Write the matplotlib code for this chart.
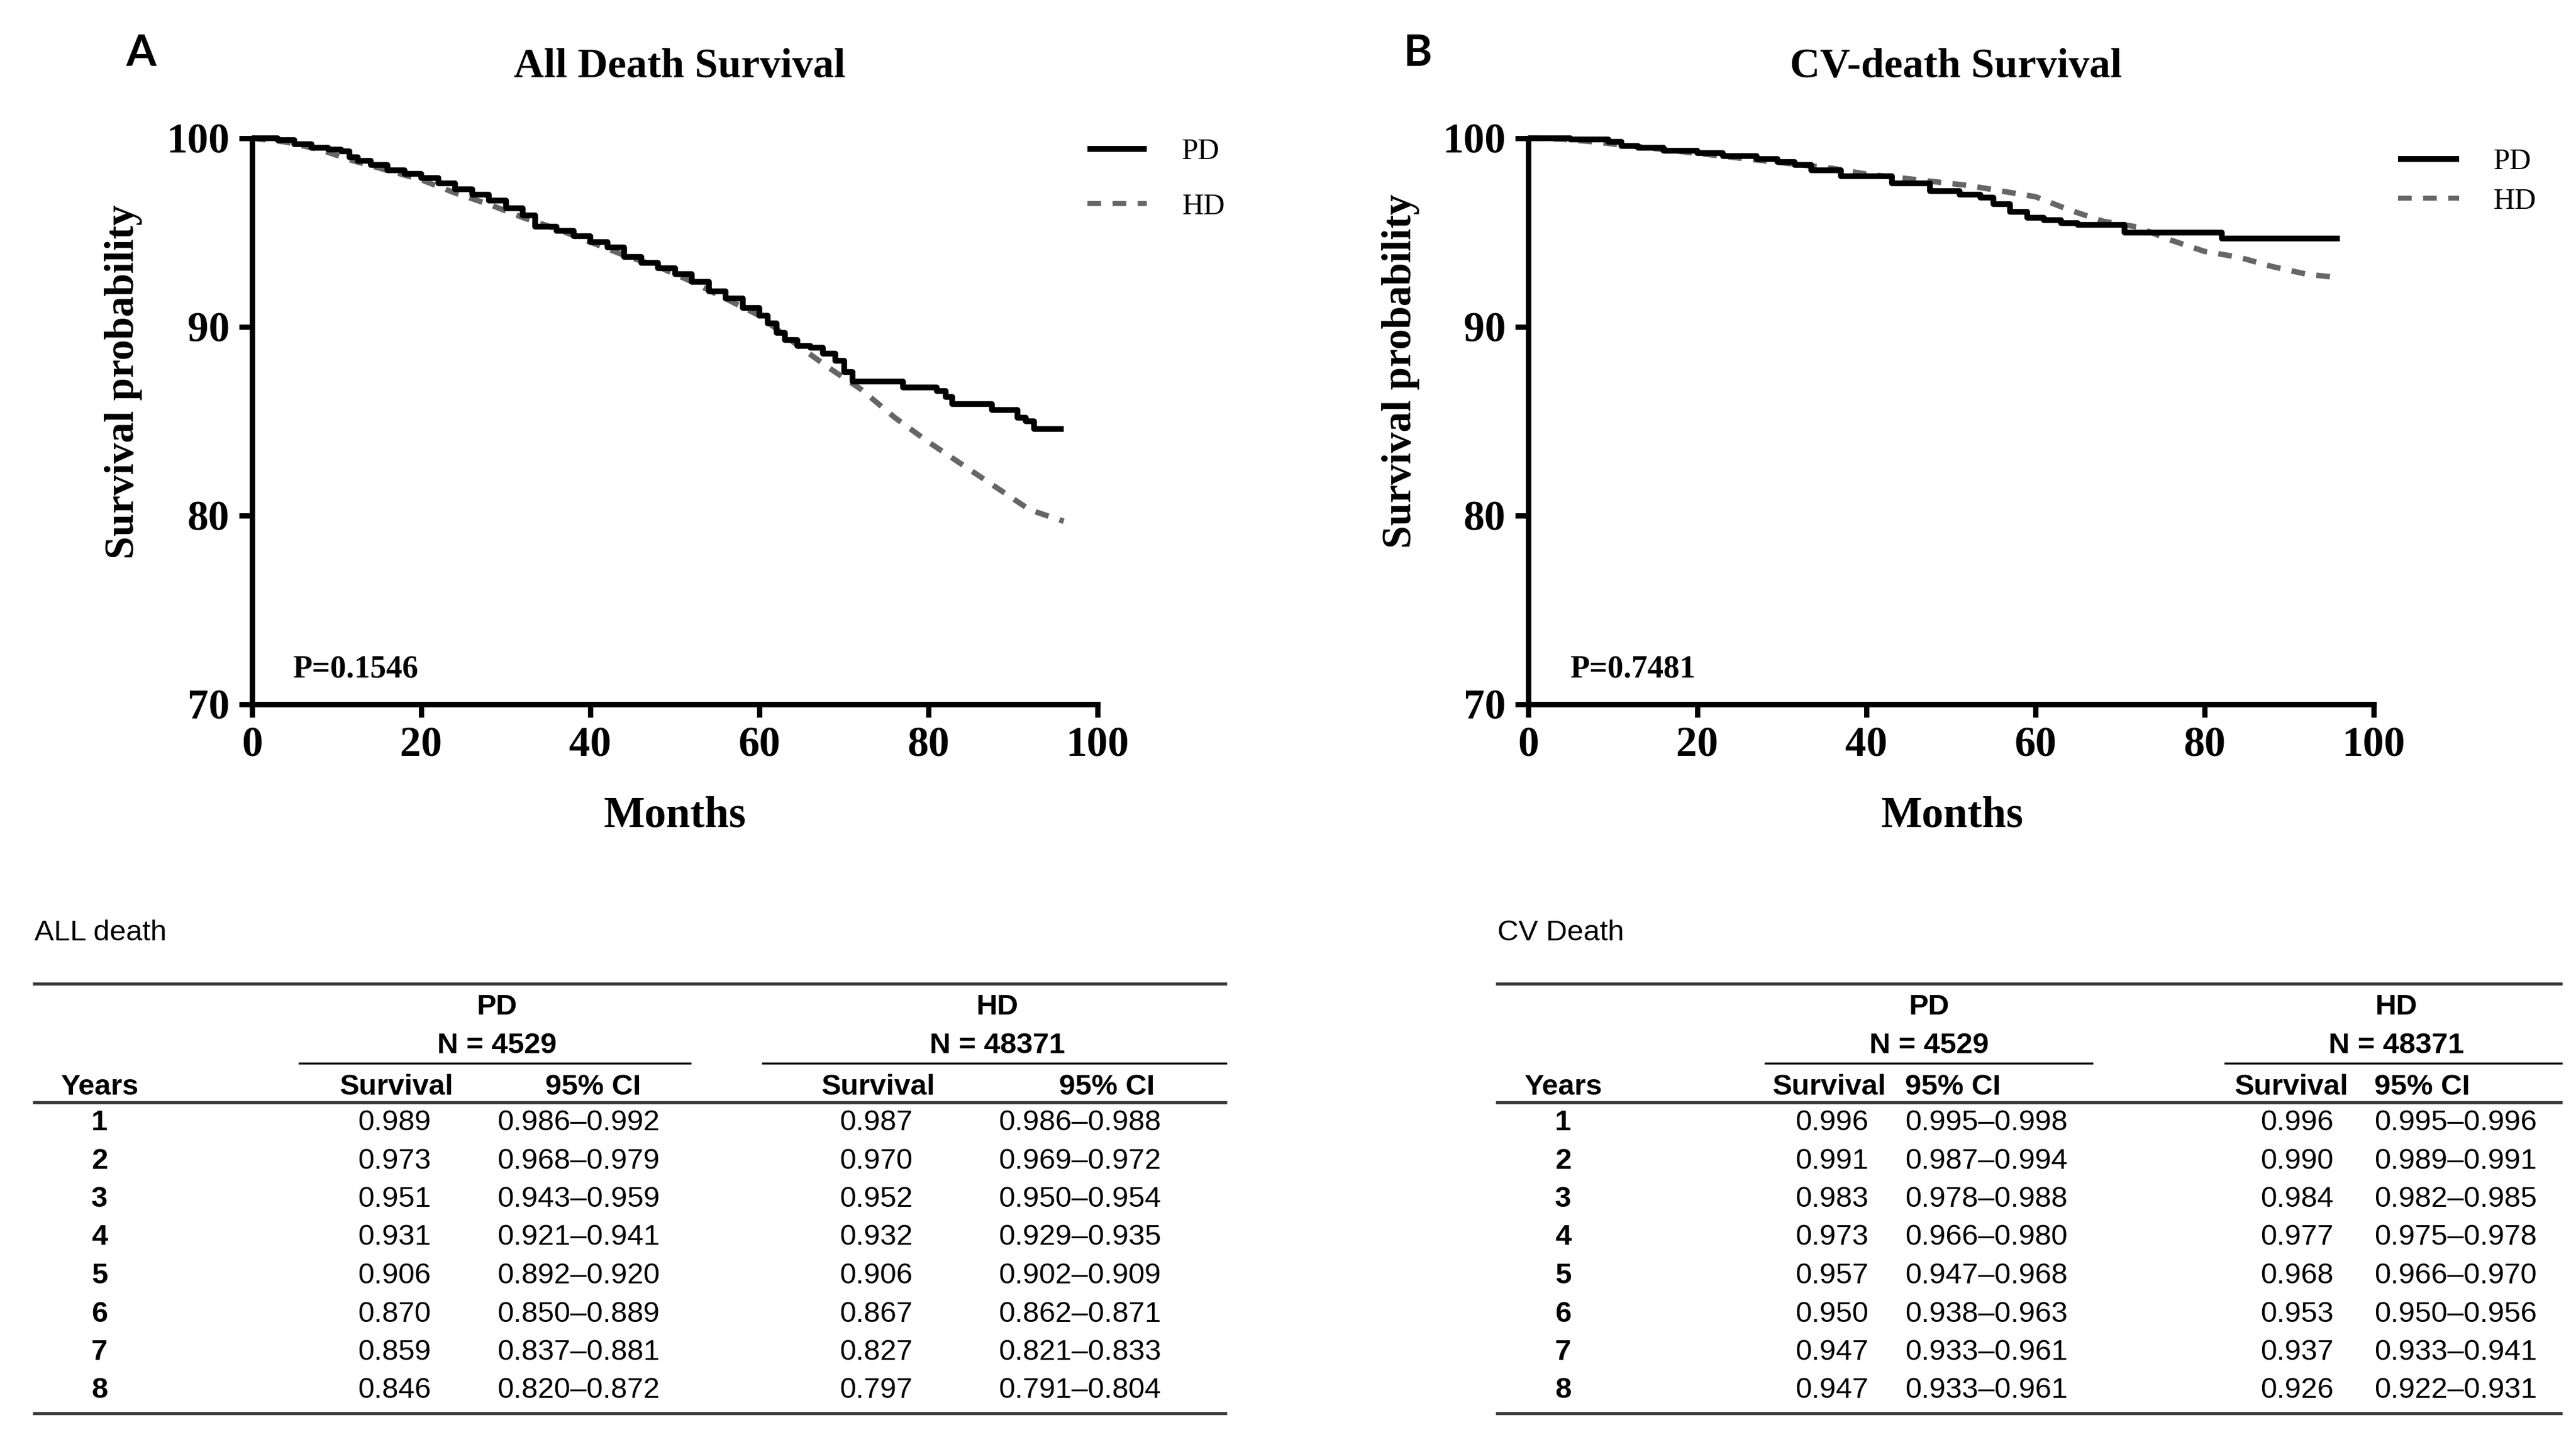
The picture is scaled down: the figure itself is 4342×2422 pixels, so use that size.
import matplotlib
matplotlib.use("Agg")
import matplotlib.pyplot as plt

W, H = 4342, 2422
DPI = 277

plt.rcParams['font.family'] = ['Liberation Serif', 'DejaVu Serif']
plt.rcParams['lines.scale_dashes'] = False
SANS = ['Liberation Sans', 'DejaVu Sans']

# ---- Kaplan-Meier curves (months, survival %) ----
all_pd_t = [0, 3, 5, 7, 9, 10.5, 11.5, 12.5, 14, 16, 18, 20, 22, 24, 26, 28, 30, 32, 33.5, 36,
            38, 40, 42, 44, 46, 48, 50, 52, 54, 56, 58, 60, 61, 62, 63, 64.5, 66, 67.5, 69, 70,
            71, 77, 81, 82, 82.8, 87.5, 90.5, 91.5, 92.5, 96]
all_pd_s = [100, 99.9, 99.7, 99.5, 99.4, 99.3, 99.0, 98.8, 98.6, 98.3, 98.1, 97.9, 97.6, 97.3, 97.0,
            96.7, 96.3, 95.9, 95.3, 95.1, 94.8, 94.5, 94.2, 93.7, 93.4, 93.1, 92.8, 92.4, 91.9, 91.5,
            91.0, 90.6, 90.2, 89.7, 89.3, 89.0, 88.9, 88.6, 88.2, 87.6, 87.1, 86.8, 86.6, 86.3, 85.9,
            85.6, 85.2, 85.0, 84.6, 84.6]
all_hd_t = [0, 4, 8, 12, 16, 20, 24, 28, 32, 36, 40, 44, 48, 52, 56, 60, 64, 68, 72, 76, 80, 84, 88, 92, 96]
all_hd_s = [100, 99.8, 99.4, 98.8, 98.3, 97.8, 97.1, 96.5, 95.8, 95.2, 94.5, 93.8, 93.2, 92.4, 91.5,
            90.6, 89.2, 87.9, 86.7, 85.2, 83.9, 82.7, 81.5, 80.3, 79.7]

cv_pd_t = [0, 5, 9.5, 11, 13, 16, 20, 23, 27, 29.5, 31.5, 33.5, 37, 43, 47.5, 51, 53.5, 55, 57, 59,
           61, 63, 65, 70.5, 82, 96]
cv_pd_s = [100, 99.95, 99.8, 99.6, 99.5, 99.35, 99.2, 99.05, 98.9, 98.75, 98.6, 98.3, 98.0, 97.6,
           97.2, 97.0, 96.85, 96.5, 96.1, 95.8, 95.65, 95.5, 95.4, 95.0, 94.7, 94.7]
cv_hd_t = [0, 4, 8, 12, 16, 20, 24, 28, 32, 36, 40, 44, 48, 52, 56, 60, 64, 68, 72, 76, 80, 84, 88, 92, 96]
cv_hd_s = [100, 99.95, 99.8, 99.6, 99.4, 99.2, 99.0, 98.8, 98.6, 98.4, 98.1, 97.9, 97.7, 97.5, 97.2,
           96.9, 96.2, 95.6, 95.3, 94.6, 94.0, 93.7, 93.2, 92.8, 92.6]

# ---- survival tables ----
years = [1, 2, 3, 4, 5, 6, 7, 8]
n_pd, n_hd = 4529, 48371

all_pd_surv = [0.989, 0.973, 0.951, 0.931, 0.906, 0.870, 0.859, 0.846]
all_pd_lo = [0.986, 0.968, 0.943, 0.921, 0.892, 0.850, 0.837, 0.820]
all_pd_hi = [0.992, 0.979, 0.959, 0.941, 0.920, 0.889, 0.881, 0.872]
all_hd_surv = [0.987, 0.970, 0.952, 0.932, 0.906, 0.867, 0.827, 0.797]
all_hd_lo = [0.986, 0.969, 0.950, 0.929, 0.902, 0.862, 0.821, 0.791]
all_hd_hi = [0.988, 0.972, 0.954, 0.935, 0.909, 0.871, 0.833, 0.804]

cv_pd_surv = [0.996, 0.991, 0.983, 0.973, 0.957, 0.950, 0.947, 0.947]
cv_pd_lo = [0.995, 0.987, 0.978, 0.966, 0.947, 0.938, 0.933, 0.933]
cv_pd_hi = [0.998, 0.994, 0.988, 0.980, 0.968, 0.963, 0.961, 0.961]
cv_hd_surv = [0.996, 0.990, 0.984, 0.977, 0.968, 0.953, 0.937, 0.926]
cv_hd_lo = [0.995, 0.989, 0.982, 0.975, 0.966, 0.950, 0.933, 0.922]
cv_hd_hi = [0.996, 0.991, 0.985, 0.978, 0.970, 0.956, 0.941, 0.931]

PD_STYLE = dict(color='black', lw=2.5, solid_capstyle='butt')
HD_STYLE = dict(color='#666666', lw=2.4, dashes=(6, 5), dash_capstyle='butt')

fig = plt.figure(figsize=(W / DPI, H / DPI), dpi=DPI)

# overlay in pixel units, used for free text, legend keys and the tables
ov = fig.add_axes([0, 0, 1, 1])
ov.set_xlim(0, W)
ov.set_ylim(H, 0)
ov.axis('off')


def km_panel(x0, x1, letter, letter_x, title, pd_t, pd_s, hd_t, hd_s, pval, p_x,
             ylab_xy, xlab_x, leg):
    y_top, y_bot = 233, 1187
    ax = fig.add_axes([x0 / W, 1 - y_bot / H, (x1 - x0) / W, (y_bot - y_top) / H])
    ax.plot(hd_t, hd_s, clip_on=False, zorder=3, **HD_STYLE)
    ax.plot(pd_t, pd_s, drawstyle='steps-post', clip_on=False, zorder=4, **PD_STYLE)
    ax.set_xlim(0, 100)
    ax.set_ylim(70, 100)
    ax.set_xticks([0, 20, 40, 60, 80, 100])
    ax.set_yticks([70, 80, 90, 100])
    for s in ('top', 'right'):
        ax.spines[s].set_visible(False)
    for s in ('left', 'bottom'):
        ax.spines[s].set_linewidth(2.4)
    ax.tick_params(direction='out', length=5.8, width=2.3, labelsize=18.5, pad=4)
    for lab in ax.get_xticklabels() + ax.get_yticklabels():
        lab.set_fontweight('bold')
    ax.patch.set_alpha(0)

    ax.set_ylabel('Survival probability', fontsize=18, fontweight='bold', va='center', ha='center')
    ax.yaxis.set_label_coords(ylab_xy[0], ylab_xy[1], transform=ov.transData)
    ax.set_xlabel('Months', fontsize=19, fontweight='bold', va='baseline', ha='center')
    ax.xaxis.set_label_coords(xlab_x, 1394, transform=ov.transData)

    ov.text(letter_x, 111, letter, fontsize=19, fontweight='bold', family=['Lato', 'DejaVu Sans'],
            ha='left', va='baseline')
    ov.text((x0 + x1) / 2 + 8, 130, title, fontsize=18.3, fontweight='bold', ha='center', va='baseline')
    ov.text(p_x, 1141, pval, fontsize=14, fontweight='bold', ha='left', va='baseline')

    # legend keys
    lx0, lx1, tx, y_pd, y_hd = leg
    ov.plot([lx0, lx1], [y_pd, y_pd], lw=2.6, color='black', solid_capstyle='butt')
    ov.plot([lx0, lx1], [y_hd, y_hd], lw=2.2, color='#666666', dashes=(6, 5), dash_capstyle='butt')
    ov.text(tx, y_pd + 17, 'PD', fontsize=13, ha='left', va='baseline')
    ov.text(tx, y_hd + 18, 'HD', fontsize=13, ha='left', va='baseline')
    return ax


km_panel(425, 1850, 'A', 212, 'All Death Survival', all_pd_t, all_pd_s, all_hd_t, all_hd_s,
         'P=0.1546', 493, (208, 643), 1138, (1833, 1933, 1992, 251, 343))
km_panel(2576, 4001, 'B', 2365, 'CV-death Survival', cv_pd_t, cv_pd_s, cv_hd_t, cv_hd_s,
         'P=0.7481', 2646, (2361, 625), 3291, (4042, 4145, 4203, 268, 334))


ROW0, ROW_STEP = 1905, 64.5
FS = 12.8


def draw_table(title, x0, x1, years_x, cols, groups):
    ov.text(x0 + 3, 1585, title, fontsize=FS, family=SANS, ha='left', va='baseline')
    for y in (1658, 1858, 2382):
        ov.plot([x0, x1], [y, y], color='#3a3a3a', lw=1.4, solid_capstyle='butt')
    ov.text(years_x, 1845, 'Years', fontsize=FS, family=SANS, fontweight='bold',
            ha='center', va='baseline')
    for i, yr in enumerate(years):
        ov.text(years_x, ROW0 + i * ROW_STEP, str(yr), fontsize=FS, family=SANS,
                fontweight='bold', ha='center', va='baseline')
    for c, (name, n, surv, lo, hi) in zip(cols, groups):
        ov.text(c['mid'], 1710, name, fontsize=FS, family=SANS, fontweight='bold',
                ha='center', va='baseline')
        ov.text(c['mid'], 1775, f'N = {n}', fontsize=FS, family=SANS, fontweight='bold',
                ha='center', va='baseline')
        ov.plot([c['ul0'], c['ul1']], [1792, 1792], color='black', lw=0.9, solid_capstyle='butt')
        ov.text(c['sh'], 1845, 'Survival', fontsize=FS, family=SANS, fontweight='bold',
                ha='center', va='baseline')
        ov.text(c['ch'], 1845, '95% CI', fontsize=FS, family=SANS, fontweight='bold',
                ha=c['cha'], va='baseline')
        for i in range(len(years)):
            y = ROW0 + i * ROW_STEP
            ov.text(c['sv'], y, f'{surv[i]:.3f}', fontsize=FS, family=SANS,
                    ha='center', va='baseline')
            ov.text(c['cv'], y, f'{lo[i]:.3f}\u2013{hi[i]:.3f}', fontsize=FS, family=SANS,
                    ha=c['cha'], va='baseline')


draw_table('ALL death', 55, 2068, 168,
           [dict(mid=838, ul0=503, ul1=1165, sh=668, ch=1000, sv=665, cv=975, cha='center'),
            dict(mid=1681, ul0=1284, ul1=2068, sh=1480, ch=1866, sv=1477, cv=1820, cha='center')],
           [('PD', n_pd, all_pd_surv, all_pd_lo, all_pd_hi),
            ('HD', n_hd, all_hd_surv, all_hd_lo, all_hd_hi)])

draw_table('CV Death', 2521, 4319, 2635,
           [dict(mid=3252, ul0=2974, ul1=3528, sh=3083, ch=3211, sv=3088, cv=3211, cha='left'),
            dict(mid=4039, ul0=3749, ul1=4319, sh=3862, ch=4002, sv=3872, cv=4002, cha='left')],
           [('PD', n_pd, cv_pd_surv, cv_pd_lo, cv_pd_hi),
            ('HD', n_hd, cv_hd_surv, cv_hd_lo, cv_hd_hi)])

fig.savefig('out.png', dpi=DPI, facecolor='white')
